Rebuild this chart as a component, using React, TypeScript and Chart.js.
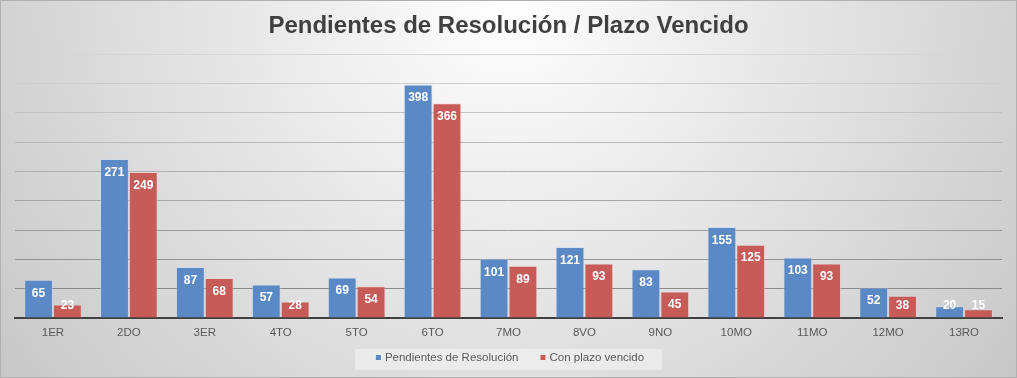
import React, { useEffect, useRef } from "react";
import { Chart, registerables } from "chart.js";

Chart.register(...registerables);

const categories = ["1ER", "2DO", "3ER", "4TO", "5TO", "6TO", "7MO", "8VO", "9NO", "10MO", "11MO", "12MO", "13RO"];
const pendientes = [65, 271, 87, 57, 69, 398, 101, 121, 83, 155, 103, 52, 20];
const vencido = [23, 249, 68, 28, 54, 366, 89, 93, 45, 125, 93, 38, 15];
const seriesNames = ["Pendientes de Resolución", "Con plazo vencido"];
const seriesColors = ["#5B89C6", "#C65B58"];
const titleText = "Pendientes de Resolución / Plazo Vencido";
const yMax = 450;
const yStep = 50;

const FONT = "'Liberation Sans', Arial, sans-serif";

function roundRect(ctx: any, left: number, top: number, w: number, h: number, r: number) {
  const right = left + w;
  ctx.beginPath();
  ctx.moveTo(left + r, top);
  ctx.lineTo(right - r, top);
  ctx.quadraticCurveTo(right, top, right, top + r);
  ctx.lineTo(right, top + h - r);
  ctx.quadraticCurveTo(right, top + h, right - r, top + h);
  ctx.lineTo(left + r, top + h);
  ctx.quadraticCurveTo(left, top + h, left, top + h - r);
  ctx.lineTo(left, top + r);
  ctx.quadraticCurveTo(left, top, left + r, top);
  ctx.closePath();
}

const bgPlugin = {
  id: "bgPlugin",
  beforeDraw(chart: any) {
    const { ctx, width, height } = chart;
    ctx.save();
    const g = ctx.createRadialGradient(width / 2, 0, 0, width / 2, 0, 650);
    g.addColorStop(0, "#ffffff");
    g.addColorStop(1, "#c6c6c6");
    ctx.fillStyle = g;
    ctx.fillRect(0, 0, width, height);
    ctx.strokeStyle = "#b0b0b0";
    ctx.lineWidth = 1;
    ctx.strokeRect(0.5, 0.5, width - 1, height - 1);
    ctx.restore();
  },
};

const legendPlugin = {
  id: "customLegend",
  afterDraw(chart: any) {
    const { ctx } = chart;
    ctx.save();
    ctx.font = `11.5px ${FONT}`;
    const box = 5;
    const gapBoxText = 4;
    const itemGap = 22;
    const widths = seriesNames.map((n) => ctx.measureText(n).width);
    let total = 0;
    widths.forEach((w, i) => {
      total += box + gapBoxText + w + (i < widths.length - 1 ? itemGap : 0);
    });
    const cx = 510;
    const cy = 357.5;
    let x = cx - total / 2;
    const bgLeft = x - 21;
    const bgRight = x + total + 18;
    ctx.fillStyle = "rgba(255,255,255,0.4)";
    roundRect(ctx, bgLeft, 349, bgRight - bgLeft, 21, 2);
    ctx.fill();
    ctx.textBaseline = "middle";
    ctx.textAlign = "left";
    seriesNames.forEach((n, i) => {
      ctx.fillStyle = seriesColors[i];
      ctx.fillRect(x, 355, box, box);
      x += box + gapBoxText;
      ctx.fillStyle = "#595959";
      ctx.fillText(n, x, cy);
      x += widths[i] + itemGap;
    });
    ctx.restore();
  },
};

const labelPlugin = {
  id: "labelPlugin",
  afterDatasetsDraw(chart: any) {
    const { ctx } = chart;
    ctx.save();
    ctx.fillStyle = "#ffffff";
    ctx.font = `bold 12px ${FONT}`;
    ctx.textAlign = "center";
    ctx.textBaseline = "middle";
    chart.data.datasets.forEach((ds: any, di: number) => {
      const meta = chart.getDatasetMeta(di);
      meta.data.forEach((bar: any, i: number) => {
        const y = Math.min(bar.y + 13.5, bar.base - 11.5);
        ctx.fillText(String(ds.data[i]), bar.x, y);
      });
    });
    ctx.restore();
  },
};

function gridColor(ctx: any) {
  const v = ctx.tick ? ctx.tick.value : 0;
  const t = Math.max(0, Math.min(1, (v - yStep) / (yMax - yStep)));
  const c = Math.round(0x8a + (0xd6 - 0x8a) * t);
  return `rgb(${c},${c},${c})`;
}

export default function App() {
  const ref = useRef<HTMLCanvasElement>(null);
  useEffect(() => {
    document.body.style.margin = "0";
    if (!ref.current) return;
    const chart = new Chart(ref.current, {
      type: "bar",
      data: {
        labels: categories,
        datasets: [
          {
            label: seriesNames[0],
            data: pendientes,
            backgroundColor: seriesColors[0],
            borderColor: "rgba(200,218,242,0.45)",
            borderWidth: 1,
            categoryPercentage: 0.76,
            barPercentage: 1,
          },
          {
            label: seriesNames[1],
            data: vencido,
            backgroundColor: seriesColors[1],
            borderColor: "rgba(245,205,205,0.45)",
            borderWidth: 1,
            categoryPercentage: 0.76,
            barPercentage: 1,
          },
        ],
      },
      options: {
        animation: false,
        responsive: false,
        devicePixelRatio: 1,
        layout: { padding: { left: 15, right: 15, top: 0, bottom: 37 } },
        plugins: {
          tooltip: { enabled: false },
          legend: { display: false },
          title: {
            display: true,
            text: titleText,
            color: "#404040",
            font: { family: FONT, size: 24, weight: "bold" },
            padding: { top: 11.6, bottom: 13.6 },
          },
        },
        scales: {
          x: {
            grid: { display: false, drawTicks: false },
            border: { display: true, color: "#404040", width: 2 },
            ticks: { color: "#595959", font: { family: FONT, size: 11.5 }, padding: 8 },
            afterFit: (s: any) => {
              s.height = 23;
            },
          },
          y: {
            min: 0,
            max: yMax,
            ticks: { display: false, stepSize: yStep },
            grid: { color: gridColor, drawTicks: false, lineWidth: 1 },
            border: { display: false },
            afterFit: (s: any) => {
              s.width = 0;
            },
          },
        },
      },
      plugins: [bgPlugin, labelPlugin, legendPlugin],
    });
    return () => chart.destroy();
  }, []);
  return (
    <div style={{ width: 1017, height: 378, position: "relative" }}>
      <canvas ref={ref} width={1017} height={378} style={{ display: "block" }} />
    </div>
  );
}
